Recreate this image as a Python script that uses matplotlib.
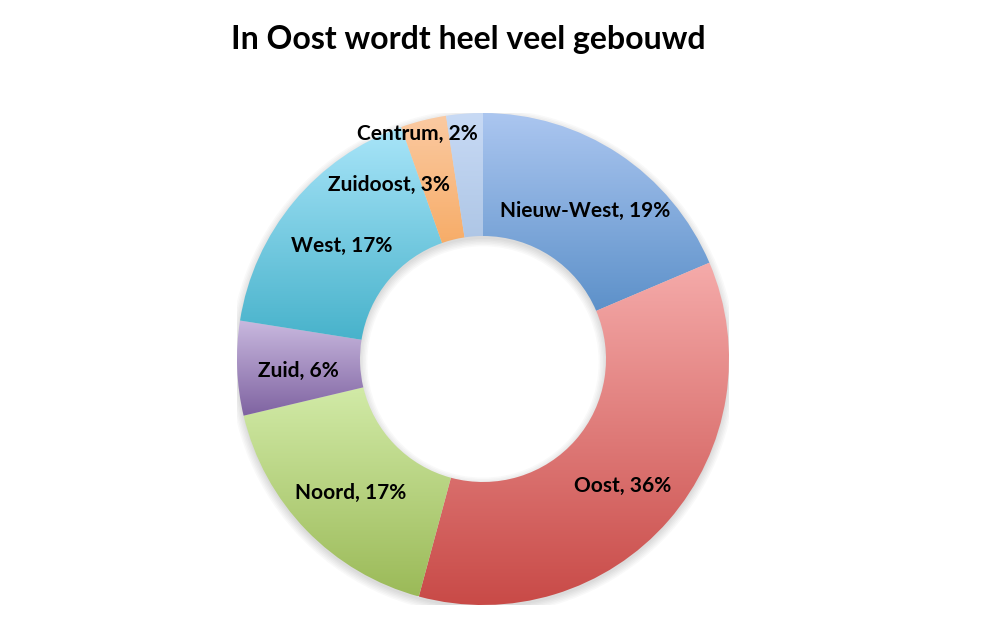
import numpy as np
import matplotlib
matplotlib.use("Agg")
import matplotlib.pyplot as plt
from matplotlib.colors import LinearSegmentedColormap
from matplotlib.patches import Wedge

categories = ["Nieuw-West", "Oost", "Noord", "Zuid", "West", "Zuidoost", "Centrum"]
values = [18.6, 35.6, 17.1, 6.2, 17.1, 3.0, 2.4]
top_colors = ["#abc6f0", "#f5abaa", "#d9f1b2", "#c9b9df", "#a9e5f9", "#fbcaa2", "#c8daf5"]
bottom_colors = ["#4a84c0", "#c84946", "#9bba58", "#7f63a1", "#3faec7", "#f39234", "#95b3d7"]
title = "In Oost wordt heel veel gebouwd"

plt.rcParams['font.family'] = ['Lato', 'DejaVu Sans']

fig = plt.figure(figsize=(9.96, 6.23), dpi=100)
ax = fig.add_axes([(483 - 246) / 996, (623 - 359 - 246) / 623, 492 / 996, 492 / 623])

total = sum(values)
labels = [f"{c}, {round(v / total * 100):d}%" for c, v in zip(categories, values)]
wedges, texts = ax.pie(values, startangle=90, counterclock=False, radius=1.0,
                       labels=labels, labeldistance=0.75,
                       wedgeprops=dict(width=0.5, linewidth=0),
                       textprops=dict(fontsize=15, fontweight='bold', color='black',
                                      ha='center', va='center'))
ax.set_xlim(-1.05, 1.05)
ax.set_ylim(-1.05, 1.05)

# soft shadow
for k in range(6):
    sh = Wedge((0, -0.012), 1.0 + 0.006 * k, 0, 360, width=0.5 + 0.012 * k,
               facecolor='black', edgecolor='none', alpha=0.025, zorder=0)
    ax.add_patch(sh)

# gradient fills
grad = np.linspace(0, 1, 256).reshape(-1, 1)
for w, tc, bc in zip(wedges, top_colors, bottom_colors):
    verts = w.get_path().vertices
    x0, x1 = verts[:, 0].min(), verts[:, 0].max()
    y0, y1 = verts[:, 1].min(), verts[:, 1].max()
    cmap = LinearSegmentedColormap.from_list("g", [tc, bc])
    im = ax.imshow(grad, cmap=cmap, extent=[x0, x1, y0, y1], origin='upper',
                   aspect='auto', zorder=1, interpolation='bilinear')
    im.set_clip_path(w)
    w.set_facecolor('none')
    w.set_zorder(2)

ax.set_xlim(-1, 1)
ax.set_ylim(-1, 1)
ax.set_aspect('equal', adjustable='box')
ax.axis('off')

for t in texts:
    t.set_ha('center')
    t.set_va('center')
    t.set_zorder(5)
    px, py = t.get_position()
    t.set_position((px, py - 0.022))
# small slices: labels placed like the original
texts[5].set_position((-0.134, 0.708))
texts[5].set_ha('right')
texts[6].set_position((-0.02, 0.915))
texts[6].set_ha('right')

fig.text(468 / 996, 1 - 39 / 623, title, ha='center', va='center',
         fontsize=23, fontweight='bold', color='black')

fig.savefig("out.png", dpi=100)
